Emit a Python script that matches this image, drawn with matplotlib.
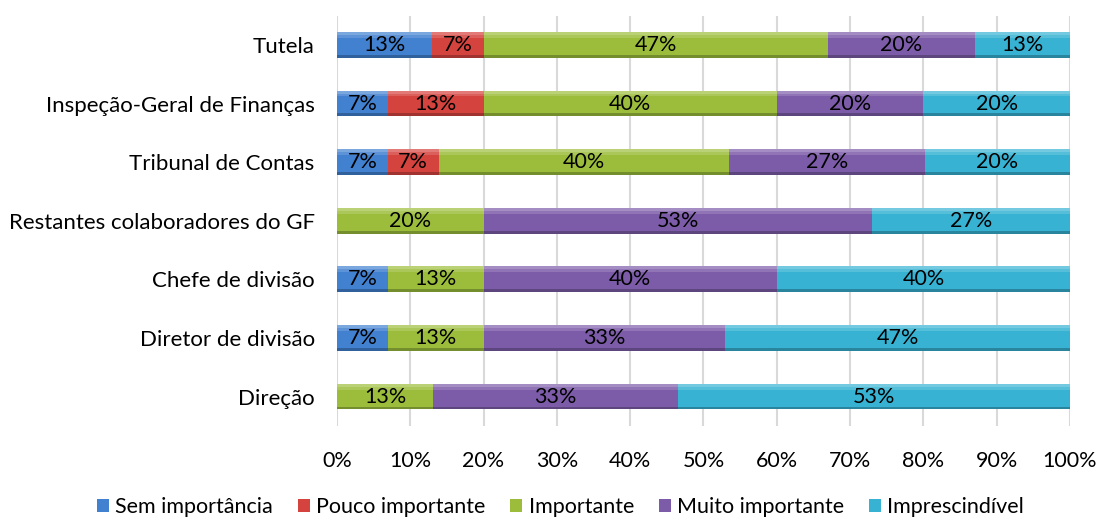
import numpy as np
import matplotlib.pyplot as plt
from matplotlib.colors import to_rgb

plt.rcParams['font.family'] = ['Lato', 'DejaVu Sans']

# respondents' ratings, in percent, one list per entity (bottom to top)
categories = ['Direção', 'Diretor de divisão', 'Chefe de divisão',
              'Restantes colaboradores do GF', 'Tribunal de Contas',
              'Inspeção-Geral de Finanças', 'Tutela']
sem_importancia = [0, 7, 7, 0, 7, 7, 13]
pouco_importante = [0, 0, 0, 0, 7, 13, 7]
importante = [13, 13, 13, 20, 40, 40, 47]
muito_importante = [33, 33, 40, 53, 27, 20, 20]
imprescindivel = [53, 47, 40, 27, 20, 20, 13]

series_names = ['Sem importância', 'Pouco importante', 'Importante',
                'Muito importante', 'Imprescindível']
colors = ['#4181d0', '#d5433e', '#9cbd3c', '#7c5ca8', '#37b2d2']

series = np.array([sem_importancia, pouco_importante, importante,
                   muito_importante, imprescindivel], dtype=float)
totals = series.sum(axis=0)
shares = series / totals * 100  # 100% stacked

def shade(c, f):
    r = np.array(to_rgb(c))
    if f > 0:
        return tuple(r + (1 - r) * f)
    return tuple(r * (1 + f))

fs = 15.5

fig = plt.figure(figsize=(10.99, 5.2), dpi=100)
ax = fig.add_axes([0.3066, 0.181, 0.667, 0.789])

y = np.arange(len(categories))
h = 0.44
left = np.zeros(len(categories))
for vals, pct, name, col in zip(shares, series, series_names, colors):
    ax.barh(y, vals, h, left=left, color=col, edgecolor='none', label=name, zorder=3)
    # bevel: light top edge, darker bottom edge
    ax.barh(y + h / 2 - 0.025, vals, 0.05, left=left, color=shade(col, 0.3),
            edgecolor='none', zorder=4)
    ax.barh(y + h / 2 - 0.075, vals, 0.05, left=left, color=shade(col, 0.15),
            edgecolor='none', zorder=4)
    ax.barh(y - h / 2 + 0.025, vals, 0.05, left=left, color=shade(col, -0.25),
            edgecolor='none', zorder=4)
    for yi, l, v, p in zip(y, left, vals, pct):
        if p > 0:
            ax.text(l + v / 2, yi, f'{p:.0f}%', ha='center', va='center',
                    fontsize=fs, color='black', zorder=5)
    left += vals

ax.set_xlim(0, 100)
ax.set_ylim(-0.5, len(categories) - 0.5)
ax.set_xticks(np.arange(0, 101, 10))
ax.set_xticklabels([f'{t}%' for t in range(0, 101, 10)], fontsize=fs)
ax.set_yticks(y)
ax.set_yticklabels(categories, fontsize=16)
ax.tick_params(axis='y', length=0, pad=16)
ax.tick_params(axis='x', length=0, pad=18)
ax.grid(axis='x', color='#d9d9d9', linewidth=1.5, zorder=0)
for s in ax.spines.values():
    s.set_visible(False)

fig.legend(loc='center', bbox_to_anchor=(0.51, 0.025), ncol=5, frameon=False,
           fontsize=fs, handlelength=0.55, handleheight=0.55, handletextpad=0.3,
           columnspacing=1.15)

fig.savefig('out.png', dpi=100)
